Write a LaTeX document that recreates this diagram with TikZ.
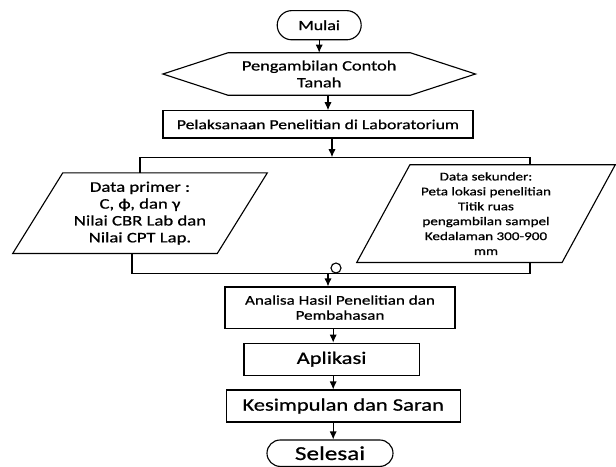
\documentclass[tikz,border=0pt]{standalone}
\usepackage{fontspec}
\setmainfont{Carlito}[FakeStretch=1.28, FakeBold=0.8]
\usetikzlibrary{positioning, shapes.misc, arrows.meta}

\begin{document}
\begin{tikzpicture}[
  >={Latex[length=2mm, width=1.8mm]},
  arr/.style={->, line width=0.8pt},
  garis/.style={line width=0.8pt},
  proses/.style={draw, line width=0.8pt, align=center, inner sep=0pt},
  terminal/.style={draw, rounded rectangle, line width=0.8pt, inner sep=0pt},
  bentuk/.style={align=center, inner sep=0pt}
]
  \useasboundingbox (0,0) rectangle (15.4,-11.65);

  % --- Mulai ---
  \node[terminal, minimum width=2.1cm, minimum height=0.73cm, font=\fontsize{10}{12}\selectfont] (mulai) at (7.98,-0.63) {Mulai};

  % --- Pengambilan contoh (heksagon) ---
  \node[bentuk, minimum width=7.8cm, minimum height=1.05cm, font=\fontsize{10.2}{12}\selectfont] (ambil) at (7.98,-1.85) {Pengambilan Contoh\\Tanah};
  \draw[garis] (ambil.west) -- ([xshift=1.63cm]ambil.north west) -- ([xshift=-1.63cm]ambil.north east)
    -- (ambil.east) -- ([xshift=-1.63cm]ambil.south east) -- ([xshift=1.63cm]ambil.south west) -- cycle;

  % --- Pelaksanaan ---
  \node[proses, minimum width=7.75cm, minimum height=0.68cm, font=\fontsize{9.8}{12}\selectfont] (laks) at (7.95,-3.11) {Pelaksanaan Penelitian di Laboratorium};

  % --- Data primer (jajaran genjang) ---
  \node[bentuk, minimum width=6.35cm, minimum height=2cm, font=\fontsize{10.4}{12}\selectfont] (primer) at (3.5,-5.33)
    {Data primer :\\C, ϕ, dan γ\\Nilai CBR Lab dan\\Nilai CPT Lap.};
  \draw[garis] ([xshift=1.25cm]primer.north west) -- (primer.north east)
    -- ([xshift=-1.25cm]primer.south east) -- (primer.south west) -- cycle;

  % --- Data sekunder (jajaran genjang) ---
  \node[bentuk, minimum width=6.45cm, minimum height=2.43cm, font=\fontsize{8.4}{10.6}\selectfont] (sekunder) at (12.15,-5.34)
    {Data sekunder:\\Peta lokasi penelitian\\Titik ruas\\pengambilan sampel\\Kedalaman 300-900\\mm};
  \draw[garis] ([xshift=1.33cm]sekunder.north west) -- (sekunder.north east)
    -- ([xshift=-1.33cm]sekunder.south east) -- (sekunder.south west) -- cycle;

  % --- Analisa s/d Selesai ---
  \node[proses, minimum width=5.75cm, minimum height=1.03cm, font=\fontsize{9.5}{10.7}\selectfont] (analisa) at (8.5,-7.69)
    {Analisa Hasil Penelitian dan\\Pembahasan};
  \node[proses, minimum width=4.38cm, minimum height=0.8cm, font=\fontsize{12.5}{14}\selectfont] (aplikasi) at (8.29,-8.98) {Aplikasi};
  \node[proses, minimum width=5.85cm, minimum height=0.8cm, font=\fontsize{12.5}{14}\selectfont] (simpul) at (8.58,-10.15) {Kesimpulan dan Saran};
  \node[terminal, minimum width=3.15cm, minimum height=0.66cm, font=\fontsize{14}{16}\selectfont] (selesai) at (8.25,-11.33) {Selesai};

  % --- titik bantu ---
  \coordinate (c1) at (8.2,0);
  \coordinate (atas) at (8.3,-3.93);
  \coordinate (kanan1) at (13.25,-3.93);
  \coordinate (bawah) at (8.2,-6.83);
  \coordinate (kiri2) at (3.3,-6.83);
  \coordinate (kanan2) at (13.25,-6.83);
  \coordinate (tengah) at (8.33,0);
  \node[draw, circle, line width=0.8pt, minimum size=0.25cm, inner sep=0pt] (lompat) at (8.4,-6.7) {};

  % --- Panah ---
  \draw[arr] (mulai.south) -- (ambil.north);
  \draw[arr] (ambil.south -| c1) -- (laks.north -| c1);
  \draw[arr] (laks.south -| atas) -- (atas);
  \draw[garis] (primer.north) |- (kanan1) -- (kanan1 |- sekunder.north);
  \draw[garis] (kiri2 |- primer.south) -- (kiri2) -- (kanan2) -- (kanan2 |- sekunder.south);
  \draw[arr] (bawah) -- (analisa.north -| bawah);
  \draw[arr] (analisa.south -| tengah) -- (aplikasi.north -| tengah);
  \draw[arr] (aplikasi.south -| tengah) -- (simpul.north -| tengah);
  \draw[arr] (simpul.south -| tengah) -- (selesai.north -| tengah);
\end{tikzpicture}
\end{document}
